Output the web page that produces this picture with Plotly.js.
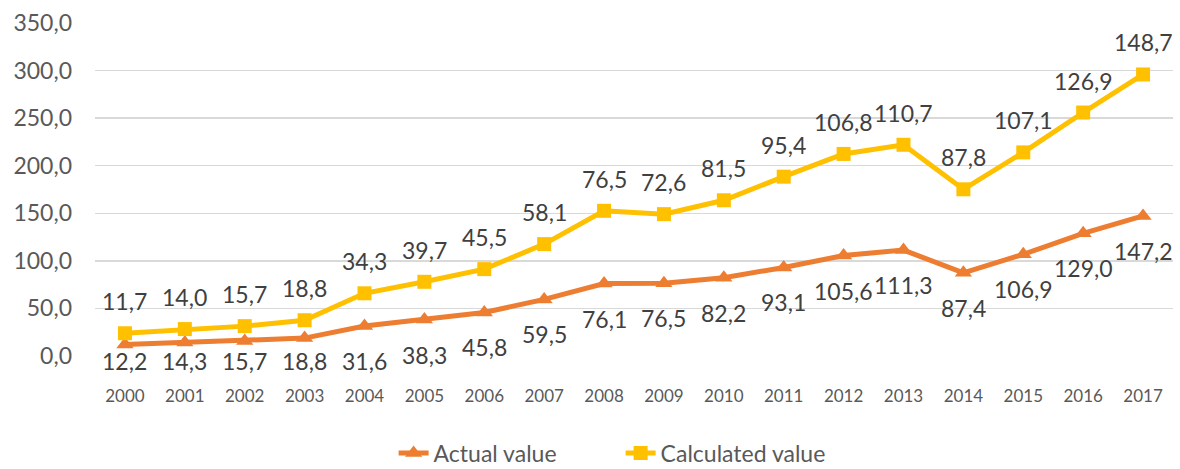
<!DOCTYPE html>
<html>
<head>
<meta charset="utf-8">
<script src="https://cdn.plot.ly/plotly-3.0.1.min.js"></script>
<style>html,body{margin:0;padding:0;background:#fff;}#chart{width:1180px;height:469px;}</style>
</head>
<body>
<div id="chart"></div>
<script>
const years = ['2000','2001','2002','2003','2004','2005','2006','2007','2008','2009','2010','2011','2012','2013','2014','2015','2016','2017'];
const actualValue = [12.2,14.3,15.7,18.8,31.6,38.3,45.8,59.5,76.1,76.5,82.2,93.1,105.6,111.3,87.4,106.9,129.0,147.2];
const calculatedValue = [11.7,14.0,15.7,18.8,34.3,39.7,45.5,58.1,76.5,72.6,81.5,95.4,106.8,110.7,87.8,107.1,126.9,148.7];
const yTicks = [0,50,100,150,200,250,300,350];

const FONT = 'Lato, "Open Sans", sans-serif';
const stacked = calculatedValue.map((v,i)=> v + actualValue[i]);
const fmt = v => v.toFixed(1).replace('.', ',');

const M = {l: 95, r: 7, t: 23, b: 113};
const plotH = 469 - M.t - M.b;
const yMax = 350;
const pxPerUnit = plotH / yMax;
// labels below points, but kept from sinking far under the axis
const belowShift = v => -Math.min(35, v * pxPerUnit + 5);

const annotations = [];
for (let i = 0; i < years.length; i++) {
  annotations.push({x: i, y: actualValue[i], xref: 'x', yref: 'y', text: fmt(actualValue[i]),
    showarrow: false, yshift: belowShift(actualValue[i]), yanchor: 'middle', xanchor: 'center',
    font: {family: FONT, size: 23, color: '#404040'}});
  annotations.push({x: i, y: stacked[i], xref: 'x', yref: 'y', text: fmt(calculatedValue[i]),
    showarrow: false, yshift: 32, yanchor: 'middle', xanchor: 'center',
    font: {family: FONT, size: 23, color: '#404040'}});
}

const traces = [
  {
    x: years, y: actualValue, name: 'Actual value', type: 'scatter', mode: 'lines+markers',
    line: {color: '#ED7D31', width: 5},
    marker: {symbol: 'triangle-up', size: 15, color: '#ED7D31'},
    cliponaxis: false, hoverinfo: 'skip'
  },
  {
    x: years, y: stacked, name: 'Calculated value', type: 'scatter', mode: 'lines+markers',
    line: {color: '#FFC000', width: 5},
    marker: {symbol: 'square', size: 14, color: '#FFC000'},
    cliponaxis: false, hoverinfo: 'skip'
  }
];

const layout = {
  width: 1180, height: 469,
  margin: {l: M.l, r: M.r, t: M.t, b: M.b, autoexpand: false},
  paper_bgcolor: '#fff', plot_bgcolor: '#fff',
  separators: ', ',
  font: {family: FONT, color: '#595959'},
  showlegend: true,
  legend: {orientation: 'h', x: 0.277, xanchor: 'left', y: (356 - 453) / plotH, yanchor: 'middle',
           entrywidth: 182, entrywidthmode: 'pixels',
           font: {family: FONT, size: 23, color: '#595959'}, traceorder: 'normal'},
  annotations: annotations,
  xaxis: {
    type: 'category', range: [-0.5, 17.5], showgrid: false, zeroline: false, showline: false,
    ticks: '', tickfont: {family: FONT, size: 17, color: '#595959'}, ticklabelstandoff: 28,
    fixedrange: true, automargin: false
  },
  yaxis: {
    range: [0, yMax], tickvals: yTicks, ticktext: yTicks.map(fmt),
    showgrid: true, gridcolor: '#D9D9D9', gridwidth: 1.3, zeroline: false, showline: false,
    ticks: '', tickfont: {family: FONT, size: 23, color: '#595959'}, ticklabelstandoff: 22,
    fixedrange: true, automargin: false
  }
};

Plotly.newPlot('chart', traces, layout, {displayModeBar: false, staticPlot: true});
</script>
</body>
</html>
